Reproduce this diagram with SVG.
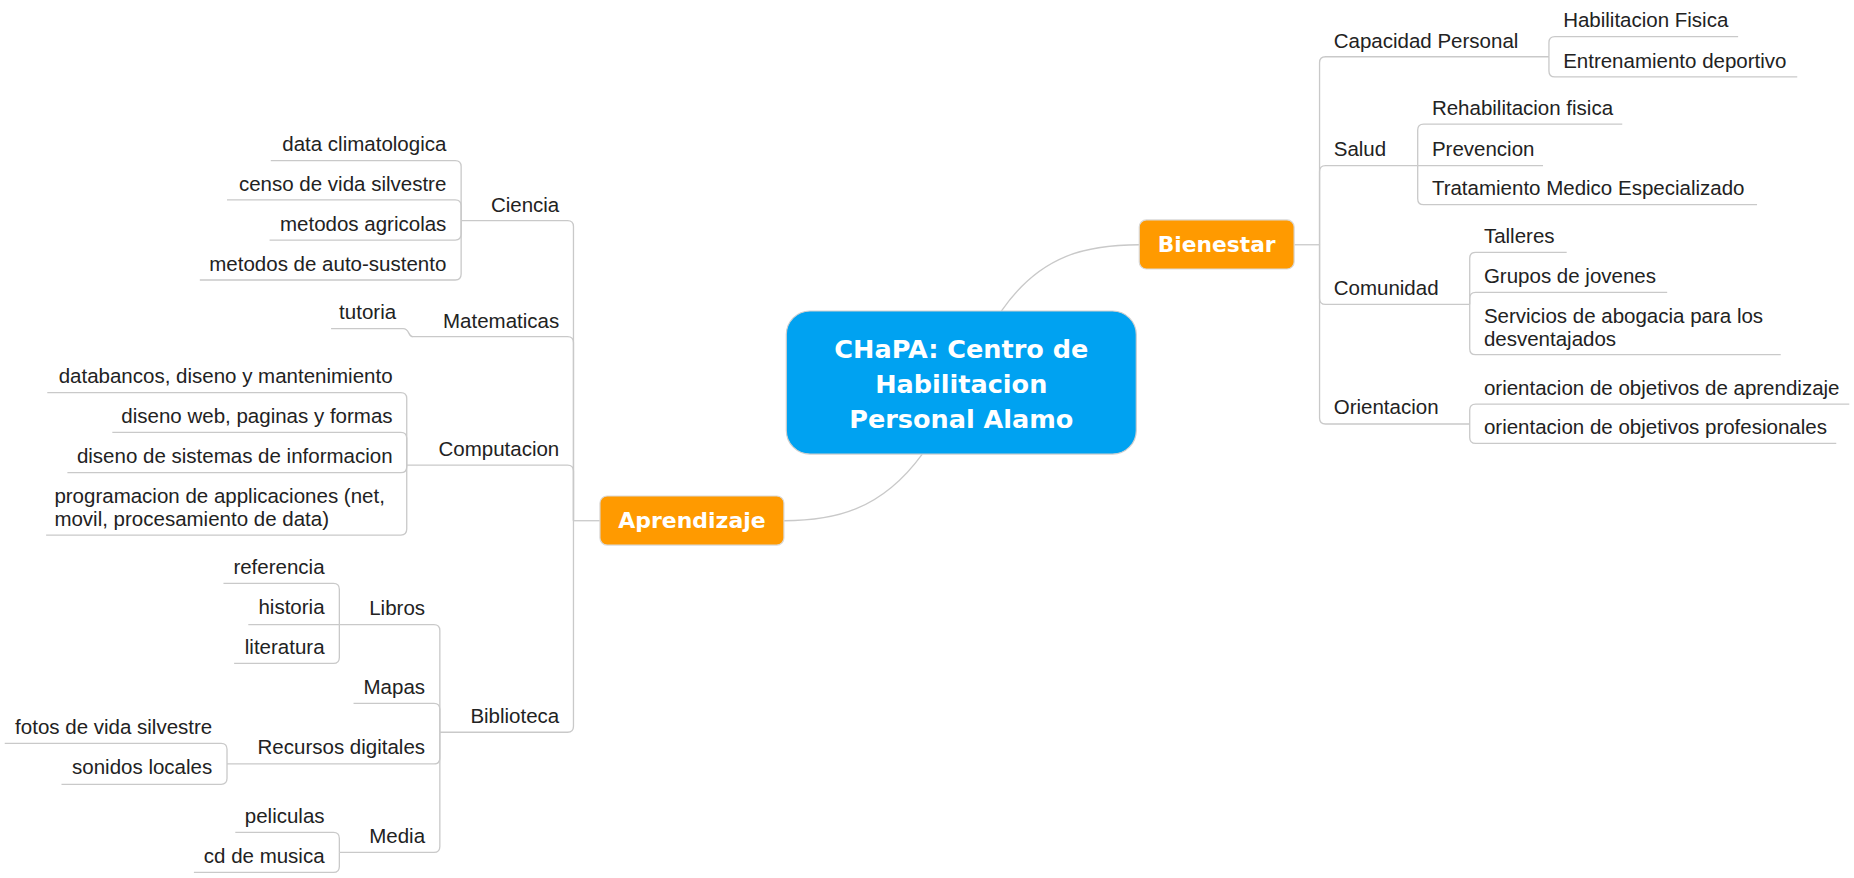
<svg xmlns="http://www.w3.org/2000/svg" width="1854" height="878" viewBox="0 0 1854 878">
<style>
.c{fill:none;stroke:#c9c9c9;stroke-width:1.1}
.t{font-family:"Liberation Sans",Arial,sans-serif;font-size:17.35px;fill:#222}
.e{text-anchor:end}
.b{font-family:"DejaVu Sans",Verdana,sans-serif;font-weight:bold;fill:#fff;text-anchor:middle}
.o{fill:#FF9A00;stroke:#d9d9d9;stroke-width:1}
</style>
<rect width="1854" height="878" fill="#fff"/>
<g transform="scale(1.1824)">
<g id="connectors">
<path class="c" d="M847 263 C880 215 920 207 963.5 207"/>
<path class="c" d="M780 384 C745 432 705 440.4 663 440.4"/>
<path class="c" d="M1094.6 207 H1116"/>
<path class="c" d="M1116 207 V53 Q1116 48 1121 48 H1310"/>
<path class="c" d="M1116 207 V145 Q1116 140 1121 140 H1199"/>
<path class="c" d="M1116 207 V252.5 Q1116 257.5 1121 257.5 H1243"/>
<path class="c" d="M1116 207 V353.6 Q1116 358.6 1121 358.6 H1243"/>
<path class="c" d="M1310 48 V36 Q1310 31 1315 31 H1470"/>
<path class="c" d="M1310 48 V60 Q1310 65 1315 65 H1520"/>
<path class="c" d="M1199 140 V110 Q1199 105 1204 105 H1372"/>
<path class="c" d="M1199 140 H1305"/>
<path class="c" d="M1199 140 V168 Q1199 173 1204 173 H1486"/>
<path class="c" d="M1243 257.5 V218.4 Q1243 213.4 1248 213.4 H1325"/>
<path class="c" d="M1243 257.5 V252.2 Q1243 247.2 1248 247.2 H1410"/>
<path class="c" d="M1243 257.5 V295 Q1243 300 1248 300 H1506"/>
<path class="c" d="M1243 358.6 V346.7 Q1243 341.7 1248 341.7 H1564"/>
<path class="c" d="M1243 358.6 V370 Q1243 375 1248 375 H1553"/>
<path class="c" d="M507.4 440.4 H485"/>
<path class="c" d="M485 440.4 V191.6 Q485 186.6 480 186.6 H390"/>
<path class="c" d="M485 440.4 V289.7 Q485 284.7 480 284.7 H348"/>
<path class="c" d="M485 440.4 V398.3 Q485 393.3 480 393.3 H344"/>
<path class="c" d="M485 440.4 V614.3 Q485 619.3 480 619.3 H372"/>
<path class="c" d="M390 186.6 V140.9 Q390 135.9 385 135.9 H229"/>
<path class="c" d="M390 186.6 V174.1 Q390 169.1 385 169.1 H192"/>
<path class="c" d="M390 186.6 V198 Q390 203 385 203 H228"/>
<path class="c" d="M390 186.6 V231.8 Q390 236.8 385 236.8 H169"/>
<path class="c" d="M349 284.7 C345 284.7 346.5 278 341 278 H280"/>
<path class="c" d="M344 393.3 V337.1 Q344 332.1 339 332.1 H40"/>
<path class="c" d="M344 393.3 V370.6 Q344 365.6 339 365.6 H95"/>
<path class="c" d="M344 393.3 V394.8 Q344 399.8 339 399.8 H57"/>
<path class="c" d="M344 393.3 V447.5 Q344 452.5 339 452.5 H39"/>
<path class="c" d="M372 619.3 V533.3 Q372 528.3 367 528.3 H287"/>
<path class="c" d="M372 619.3 V599.8 Q372 594.8 367 594.8 H299"/>
<path class="c" d="M372 619.3 V641.1 Q372 646.1 367 646.1 H192"/>
<path class="c" d="M372 619.3 V715.9 Q372 720.9 367 720.9 H287"/>
<path class="c" d="M287 528.3 V498.3 Q287 493.3 282 493.3 H189"/>
<path class="c" d="M287 528.3 H210"/>
<path class="c" d="M287 528.3 V556 Q287 561 282 561 H198"/>
<path class="c" d="M192 646.1 V633.7 Q192 628.7 187 628.7 H4"/>
<path class="c" d="M192 646.1 V658.3 Q192 663.3 187 663.3 H52"/>
<path class="c" d="M287 720.9 V708.9 Q287 703.9 282 703.9 H199"/>
<path class="c" d="M287 720.9 V732.8 Q287 737.8 282 737.8 H164"/>
</g>
<g id="central">
<rect x="665" y="263" width="296" height="121" rx="20" fill="#00A2F1" stroke="#cfcfcf" stroke-width="1"/>
<text class="b" font-size="21.6" x="813" y="303">CHaPA: Centro de</text>
<text class="b" font-size="21.6" x="813" y="332.6">Habilitacion</text>
<text class="b" font-size="21.6" x="813" y="361.7">Personal Alamo</text>
</g>
<g id="bienestar">
<rect class="o" x="963.5" y="186" width="131" height="41.5" rx="6"/>
<text class="b" font-size="18.4" x="1029" y="213.4">Bienestar</text>
</g>
<g id="aprendizaje">
<rect class="o" x="507.4" y="419.5" width="155.6" height="41.5" rx="6"/>
<text class="b" font-size="18.6" x="585.2" y="446.8">Aprendizaje</text>
</g>
<g id="capacidad"><text class="t" x="1128" y="40.9">Capacidad Personal</text></g>
<g id="hab-fisica"><text class="t" x="1322" y="23">Habilitacion Fisica</text></g>
<g id="entrenamiento"><text class="t" x="1322" y="57.2">Entrenamiento deportivo</text></g>
<g id="salud"><text class="t" x="1128" y="131.7">Salud</text></g>
<g id="rehab"><text class="t" x="1211" y="97.3">Rehabilitacion fisica</text></g>
<g id="prevencion"><text class="t" x="1211" y="131.7">Prevencion</text></g>
<g id="tratamiento"><text class="t" x="1211" y="165">Tratamiento Medico Especializado</text></g>
<g id="comunidad"><text class="t" x="1128" y="249.5">Comunidad</text></g>
<g id="talleres"><text class="t" x="1255" y="205.8">Talleres</text></g>
<g id="grupos"><text class="t" x="1255" y="239.6">Grupos de jovenes</text></g>
<g id="servicios"><text class="t" x="1255" y="273.4">Servicios de abogacia para los</text><text class="t" x="1255" y="292.4">desventajados</text></g>
<g id="orientacion"><text class="t" x="1128" y="350.4">Orientacion</text></g>
<g id="or-aprend"><text class="t" x="1255" y="334">orientacion de objetivos de aprendizaje</text></g>
<g id="or-prof"><text class="t" x="1255" y="367.3">orientacion de objetivos profesionales</text></g>
<g id="ciencia"><text class="t e" x="473" y="179">Ciencia</text></g>
<g id="data-clima"><text class="t e" x="377.5" y="127.7">data climatologica</text></g>
<g id="censo"><text class="t e" x="377.5" y="161.3">censo de vida silvestre</text></g>
<g id="agricolas"><text class="t e" x="377.5" y="195.1">metodos agricolas</text></g>
<g id="autosustento"><text class="t e" x="377.5" y="228.9">metodos de auto-sustento</text></g>
<g id="matematicas"><text class="t e" x="473" y="277.1">Matematicas</text></g>
<g id="tutoria"><text class="t e" x="335" y="269.8">tutoria</text></g>
<g id="computacion"><text class="t e" x="473" y="385.4">Computacion</text></g>
<g id="databancos"><text class="t e" x="332" y="324.2">databancos, diseno y mantenimiento</text></g>
<g id="diseno-web"><text class="t e" x="332" y="358">diseno web, paginas y formas</text></g>
<g id="diseno-sis"><text class="t e" x="332" y="391.9">diseno de sistemas de informacion</text></g>
<g id="programacion"><text class="t" x="46" y="425.7">programacion de applicaciones (net,</text><text class="t" x="46" y="444.6">movil, procesamiento de data)</text></g>
<g id="biblioteca"><text class="t e" x="473" y="611.2">Biblioteca</text></g>
<g id="libros"><text class="t e" x="359.5" y="520.1">Libros</text></g>
<g id="referencia"><text class="t e" x="274.5" y="485.5">referencia</text></g>
<g id="historia"><text class="t e" x="274.5" y="519.3">historia</text></g>
<g id="literatura"><text class="t e" x="274.5" y="553.1">literatura</text></g>
<g id="mapas"><text class="t e" x="359.5" y="587">Mapas</text></g>
<g id="recursos"><text class="t e" x="359.5" y="638">Recursos digitales</text></g>
<g id="fotos"><text class="t e" x="179.5" y="621">fotos de vida silvestre</text></g>
<g id="sonidos"><text class="t e" x="179.5" y="654.9">sonidos locales</text></g>
<g id="media"><text class="t e" x="359.5" y="713.2">Media</text></g>
<g id="peliculas"><text class="t e" x="274.5" y="695.8">peliculas</text></g>
<g id="cd"><text class="t e" x="274.5" y="729.6">cd de musica</text></g>
</g>
</svg>
